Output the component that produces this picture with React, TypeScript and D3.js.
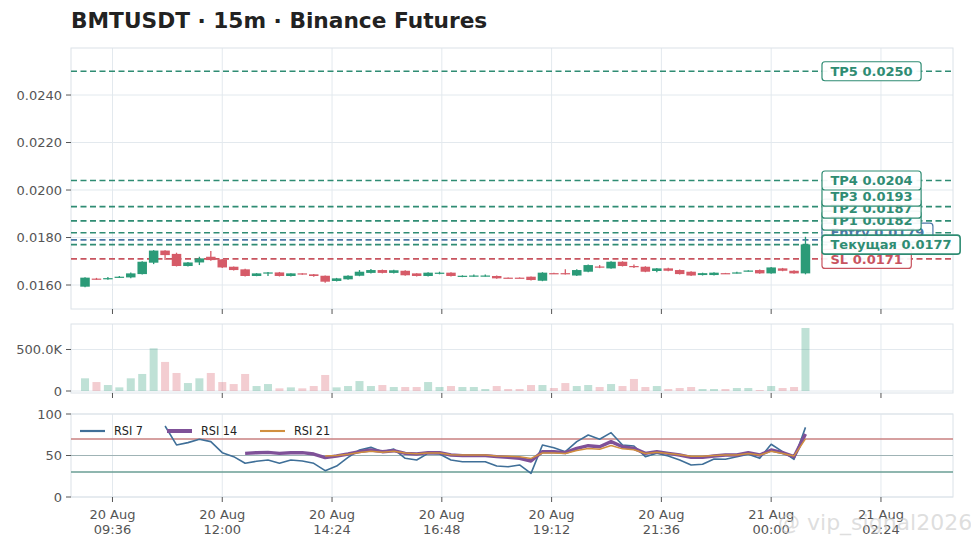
import React, { useEffect, useRef } from "react";
import * as d3 from "d3";

// ---- data ----
const startTime = Date.UTC(2025, 7, 20, 9, 0); // 20 Aug 09:00, 15m candles
const intervalMin = 15;

const opens = [
  0.01593, 0.01627, 0.01627, 0.01632, 0.01632, 0.01646, 0.01694, 0.01745, 0.01731, 0.0168,
  0.01695, 0.01719, 0.01708, 0.01677, 0.01666, 0.01638, 0.01651, 0.01653, 0.01638, 0.01649,
  0.01645, 0.01639, 0.01617, 0.01624, 0.01639, 0.01651, 0.01663, 0.01651, 0.0166, 0.01649,
  0.01638, 0.01649, 0.01652, 0.01637, 0.01638, 0.01638, 0.01638, 0.01631, 0.01631, 0.01635,
  0.01618, 0.0165, 0.0165, 0.0164, 0.01656, 0.01678, 0.0167, 0.01698, 0.0168, 0.01677,
  0.01659, 0.0167, 0.01663, 0.01656, 0.01642, 0.01642, 0.0165, 0.01651, 0.01659, 0.01663,
  0.01649, 0.0167, 0.0166, 0.01649,
];
const highs = [
  0.01633, 0.0163, 0.01634, 0.01638, 0.01653, 0.017, 0.01747, 0.01746, 0.01736, 0.01697,
  0.01719, 0.01743, 0.0171, 0.01678, 0.01668, 0.0165, 0.01655, 0.01655, 0.0165, 0.0165,
  0.01646, 0.0164, 0.0163, 0.01641, 0.01663, 0.01667, 0.01665, 0.01664, 0.01662, 0.0165,
  0.01654, 0.01656, 0.01654, 0.01641, 0.01644, 0.01644, 0.0164, 0.01632, 0.01632, 0.01636,
  0.01654, 0.01652, 0.01666, 0.01666, 0.01686, 0.01684, 0.017, 0.017, 0.01686, 0.01679,
  0.01672, 0.01673, 0.01665, 0.01658, 0.01652, 0.01654, 0.01651, 0.01656, 0.01662, 0.01665,
  0.01676, 0.01672, 0.01662, 0.01803,
];
const lows = [
  0.01591, 0.01622, 0.01622, 0.0163, 0.01628, 0.01644, 0.01688, 0.01705, 0.01678, 0.01678,
  0.01684, 0.01702, 0.01672, 0.01661, 0.01636, 0.01637, 0.01638, 0.01636, 0.01636, 0.01643,
  0.01635, 0.0161, 0.01615, 0.01622, 0.01637, 0.01649, 0.01649, 0.01649, 0.01639, 0.01636,
  0.01636, 0.01645, 0.01636, 0.01633, 0.01635, 0.01636, 0.01626, 0.01629, 0.01629, 0.01619,
  0.01616, 0.01647, 0.01644, 0.01638, 0.01654, 0.01671, 0.01668, 0.01678, 0.01672, 0.01654,
  0.01654, 0.01658, 0.01644, 0.01638, 0.0164, 0.0164, 0.01647, 0.01649, 0.01657, 0.01647,
  0.01647, 0.01658, 0.01647, 0.01645,
];
const closes = [
  0.01631, 0.01625, 0.01629, 0.01635, 0.01649, 0.01698, 0.01745, 0.01726, 0.0168, 0.01695,
  0.01712, 0.01705, 0.01674, 0.01663, 0.01638, 0.01649, 0.01653, 0.01638, 0.01649, 0.01645,
  0.01638, 0.01614, 0.01628, 0.01639, 0.01656, 0.01663, 0.01651, 0.01662, 0.01641, 0.01638,
  0.01652, 0.01652, 0.01638, 0.01639, 0.0164, 0.0164, 0.01628, 0.0163, 0.0163, 0.01621,
  0.01652, 0.01648, 0.01648, 0.01663, 0.01684, 0.01676, 0.01698, 0.0168, 0.01678, 0.01656,
  0.0167, 0.0166, 0.01646, 0.0164, 0.0165, 0.01652, 0.01648, 0.01653, 0.01661, 0.01649,
  0.01674, 0.0166, 0.01649, 0.01771,
];
const volumes = [
  153000, 108000, 72000, 44000, 153000, 205000, 514000, 350000, 217000, 96000,
  153000, 217000, 108000, 84000, 205000, 60000, 84000, 32000, 44000, 32000,
  60000, 193000, 44000, 60000, 120000, 60000, 72000, 48000, 48000, 48000,
  108000, 48000, 60000, 48000, 48000, 24000, 60000, 24000, 24000, 72000,
  72000, 36000, 96000, 60000, 72000, 48000, 84000, 60000, 145000, 48000,
  60000, 24000, 36000, 48000, 24000, 24000, 24000, 36000, 36000, 12000,
  60000, 36000, 48000, 759000,
];
const N = null;
const rsi7: (number | null)[] = [
  N, N, N, N, N, N, N,
  85.5, 62.7, 65.5, 69.5, 66.7, 53.4, 48.6, 40.6, 43, 44.6,
  40.6, 44.6, 43.4, 40.6, 31.7, 37.3, 47.8, 56.6, 59.8, 54.6,
  57.8, 46.6, 44.6, 52.6, 51.8, 44.6, 42.5, 42.5, 42.5, 37.3,
  36.5, 38.6, 28.5, 62.7, 59.4, 54.6, 66.7, 74.7, 69.5, 77.5,
  62.7, 61.4, 48.6, 52.6, 49.4, 44.6, 38.6, 39.4, 45.8, 45.4,
  48.6, 51.4, 46.6, 63.5, 54.6, 45.4, 83.9,
];
const rsi14: (number | null)[] = [
  N, N, N, N, N, N, N, N, N, N, N, N, N, N,
  52.6, 53.4, 53.8, 52.6, 53.4, 53.4, 51.8, 47.4, 49.4, 51.8,
  54.6, 56.6, 54.6, 55.8, 52.6, 51.8, 53.4, 53.4, 50.6, 49.8,
  49.8, 49.8, 48.6, 47.8, 46.6, 43.4, 54.6, 54.6, 53.4, 58.6,
  61.8, 60.6, 66.7, 60.6, 58.6, 52.6, 54.6, 52.6, 50.6, 47.8,
  47.8, 49.4, 50.6, 50.6, 53.4, 50.6, 56.6, 53.4, 48.6, 75.9,
];
const rsi21: (number | null)[] = [
  N, N, N, N, N, N, N, N, N, N, N, N, N, N, N, N, N, N, N, N, N,
  49.5, 50, 51.5, 53.5, 55, 54, 55, 53, 52, 53,
  53, 51, 50.5, 50.5, 50.5, 49.5, 49, 48.5, 46.5, 53,
  53, 52.5, 56, 58.5, 57.5, 62, 58, 57, 52.5, 54,
  52.5, 51, 49, 49, 50, 50.5, 50.5, 52.5, 50.5, 55,
  52.5, 49.5, 70,
];
const levelNames = ["TP5", "TP4", "TP3", "TP2", "TP1", "Entry", "Текущая", "SL"];
const levelValues = [0.025, 0.0204, 0.0193, 0.0187, 0.0182, 0.0179, 0.0177, 0.0171];
const levelKinds = ["tp", "tp", "tp", "tp", "tp", "entry", "current", "sl"];
const priceTicks = [0.016, 0.018, 0.02, 0.022, 0.024];
const volumeTicks = [0, 500000];
const rsiTicks = [0, 50, 100];
const rsiLevels = [70, 50, 30];
const xTickTimes = [
  Date.UTC(2025, 7, 20, 9, 36), Date.UTC(2025, 7, 20, 12, 0), Date.UTC(2025, 7, 20, 14, 24),
  Date.UTC(2025, 7, 20, 16, 48), Date.UTC(2025, 7, 20, 19, 12), Date.UTC(2025, 7, 20, 21, 36),
  Date.UTC(2025, 7, 21, 0, 0), Date.UTC(2025, 7, 21, 2, 24),
];
const title = "BMTUSDT · 15m · Binance Futures";
const watermark = "@ vip_signal2026";

// ---- styles ----
const GREEN = "#2b9b78";
const RED = "#d65b68";
const LEVEL_COLORS: Record<string, string> = {
  tp: "#2f8c73", entry: "#4c77a6", current: "#2f8c73", sl: "#c8545f",
};
const GRID = "#e3e9ee";
const FONT = "'DejaVu Sans', sans-serif";

export default function App() {
  const ref = useRef<SVGSVGElement>(null);

  useEffect(() => {
    const svg = d3.select(ref.current!);
    svg.selectAll("*").remove();
    const left = 71, right = 953;
    const pricePanel = { top: 48, bottom: 309 };
    const volPanel = { top: 324, bottom: 393 };
    const rsiPanel = { top: 414, bottom: 497 };
    const ms = 60000;
    const times = opens.map((_, i) => new Date(startTime + i * intervalMin * ms));
    const lastT = times[times.length - 1].getTime();

    const x = d3.scaleUtc()
      .domain([new Date(startTime - 18.4 * ms), new Date(lastT + 193.5 * ms)])
      .range([left, right]);
    const yP = d3.scaleLinear().domain([0.01499, 0.02598]).range([pricePanel.bottom, pricePanel.top]);
    const yV = d3.scaleLinear().domain([-24000, 807000]).range([volPanel.bottom, volPanel.top]);
    const yR = d3.scaleLinear().domain([0, 100]).range([rsiPanel.bottom, rsiPanel.top]);

    svg.append("rect").attr("width", 971).attr("height", 548).attr("fill", "#fff");

    // title
    svg.append("text").attr("x", left).attr("y", 28).attr("font-family", FONT)
      .attr("font-size", 21.7).attr("font-weight", "bold").attr("fill", "#222").text(title);

    const panels = [
      { p: pricePanel, y: yP, ticks: priceTicks, fmt: (v: number) => d3.format(".4f")(v) },
      { p: volPanel, y: yV, ticks: volumeTicks, fmt: (v: number) => (v === 0 ? "0" : (v / 1000).toFixed(1) + "K") },
      { p: rsiPanel, y: yR, ticks: rsiTicks, fmt: (v: number) => String(v) },
    ];

    panels.forEach(({ p, y, ticks, fmt }) => {
      const g = svg.append("g");
      xTickTimes.forEach((t) => {
        g.append("line").attr("x1", x(new Date(t))).attr("x2", x(new Date(t)))
          .attr("y1", p.top).attr("y2", p.bottom).attr("stroke", GRID).attr("stroke-width", 1);
      });
      ticks.forEach((v) => {
        g.append("line").attr("x1", left).attr("x2", right).attr("y1", y(v)).attr("y2", y(v))
          .attr("stroke", GRID).attr("stroke-width", 1);
      });
      g.append("rect").attr("x", left).attr("y", p.top).attr("width", right - left)
        .attr("height", p.bottom - p.top).attr("fill", "none").attr("stroke", "#dbe2e8");
      ticks.forEach((v) => {
        g.append("line").attr("x1", left - 5).attr("x2", left).attr("y1", y(v)).attr("y2", y(v))
          .attr("stroke", "#555").attr("stroke-width", 1);
        g.append("text").attr("x", left - 9).attr("y", y(v)).attr("dy", "0.36em")
          .attr("text-anchor", "end").attr("font-family", FONT).attr("font-size", 13)
          .attr("fill", "#555").text(fmt(v));
      });
      xTickTimes.forEach((t) => {
        g.append("line").attr("x1", x(new Date(t))).attr("x2", x(new Date(t)))
          .attr("y1", p.bottom).attr("y2", p.bottom + 5).attr("stroke", "#555").attr("stroke-width", 1);
      });
    });

    // x tick labels
    const fmtDay = d3.utcFormat("%d %b");
    const fmtTime = d3.utcFormat("%H:%M");
    xTickTimes.forEach((t) => {
      const d = new Date(t);
      const tx = svg.append("text").attr("text-anchor", "middle").attr("font-family", FONT)
        .attr("font-size", 13).attr("fill", "#555");
      tx.append("tspan").attr("x", x(d)).attr("y", 519).text(fmtDay(d));
      tx.append("tspan").attr("x", x(d)).attr("y", 533.5).text(fmtTime(d));
    });

    // level lines
    const gl = svg.append("g");
    levelValues.forEach((v, i) => {
      gl.append("line").attr("x1", left).attr("x2", right).attr("y1", yP(v)).attr("y2", yP(v))
        .attr("stroke", LEVEL_COLORS[levelKinds[i]]).attr("stroke-width", 1.7)
        .attr("stroke-dasharray", "6,3.5");
    });

    // candles
    const bodyW = 9.5;
    const gc = svg.append("g");
    times.forEach((t, i) => {
      const up = closes[i] >= opens[i];
      const c = up ? GREEN : RED;
      const cx = x(t);
      gc.append("line").attr("x1", cx).attr("x2", cx).attr("y1", yP(highs[i])).attr("y2", yP(lows[i]))
        .attr("stroke", c).attr("stroke-width", 1.3);
      const y1 = yP(Math.max(opens[i], closes[i]));
      const y2 = yP(Math.min(opens[i], closes[i]));
      gc.append("rect").attr("x", cx - bodyW / 2).attr("y", y1).attr("width", bodyW)
        .attr("height", Math.max(1.2, y2 - y1)).attr("fill", c);
    });

    // level labels (stacked to avoid overlap)
    const order = levelValues.map((v, i) => i).sort((a, b) => levelValues[a] - levelValues[b]);
    const labelY: number[] = new Array(levelValues.length);
    let prev = Infinity;
    order.forEach((i) => {
      const yy = Math.min(yP(levelValues[i]), prev - 12);
      labelY[i] = yy;
      prev = yy;
    });
    const labelX = x(new Date(lastT)) + 16.5;
    const drawOrder = [7, 5, 4, 3, 2, 1, 0, 6];
    drawOrder.forEach((i) => {
      const col = LEVEL_COLORS[levelKinds[i]];
      const g = svg.append("g");
      const rect = g.append("rect");
      const txt = g.append("text").attr("x", labelX + 8.5).attr("y", labelY[i]).attr("dy", "0.36em")
        .attr("font-family", FONT).attr("font-size", 13).attr("font-weight", "bold").attr("fill", col)
        .text(`${levelNames[i]} ${levelValues[i].toFixed(4)}`);
      const w = (txt.node() as SVGTextElement).getComputedTextLength();
      rect.attr("x", labelX).attr("y", labelY[i] - 9.5).attr("width", w + 17).attr("height", 19)
        .attr("rx", 3).attr("fill", "#fff").attr("fill-opacity", 0.93)
        .attr("stroke", col).attr("stroke-width", levelKinds[i] === "current" ? 1.6 : 1.2);
    });

    // volume bars
    const gv = svg.append("g");
    times.forEach((t, i) => {
      const up = closes[i] >= opens[i];
      gv.append("rect").attr("x", x(t) - 4).attr("width", 8)
        .attr("y", yV(volumes[i])).attr("height", yV(0) - yV(volumes[i]))
        .attr("fill", up ? GREEN : RED).attr("fill-opacity", 0.3);
    });

    // RSI reference lines
    const refCols = ["#c98080", "#9fb3b5", "#6a9e94"];
    const refW = [1.5, 1.1, 1.5];
    rsiLevels.forEach((v, i) => {
      svg.append("line").attr("x1", left).attr("x2", right).attr("y1", yR(v)).attr("y2", yR(v))
        .attr("stroke", refCols[i]).attr("stroke-width", refW[i]);
    });

    const line = d3.line<number | null>()
      .defined((d) => d != null)
      .x((_, i) => x(times[i]))
      .y((d) => yR(d as number));
    const series = [
      { name: "RSI 7", data: rsi7, color: "#3f6f98", w: 1.6 },
      { name: "RSI 14", data: rsi14, color: "#7f5198", w: 3.4 },
      { name: "RSI 21", data: rsi21, color: "#d18f3f", w: 1.5 },
    ];
    series.forEach((s) => {
      svg.append("path").attr("d", line(s.data)).attr("fill", "none").attr("stroke", s.color)
        .attr("stroke-width", s.w).attr("stroke-linejoin", "round");
    });

    // legend
    const legX = [80, 167, 260];
    series.forEach((s, i) => {
      svg.append("line").attr("x1", legX[i]).attr("x2", legX[i] + 25).attr("y1", 431).attr("y2", 431)
        .attr("stroke", s.color).attr("stroke-width", s.w + 0.6);
      svg.append("text").attr("x", legX[i] + 34).attr("y", 435.3)
        .attr("font-family", "'DejaVu Sans Condensed', 'DejaVu Sans', sans-serif")
        .attr("font-stretch", "condensed").attr("font-size", 12.5).attr("fill", "#222").text(s.name);
    });

    // faint watermark of the source image (kept as text, as in the reference)
    svg.append("text").attr("x", 778).attr("y", 530).attr("font-family", FONT).attr("font-size", 22)
      .attr("fill", "#c8c8c8").attr("fill-opacity", 0.6).text(watermark);
  }, []);

  return (
    <svg
      ref={ref}
      width={971}
      height={548}
      style={{ position: "absolute", left: 0, top: 0, display: "block" }}
    />
  );
}
